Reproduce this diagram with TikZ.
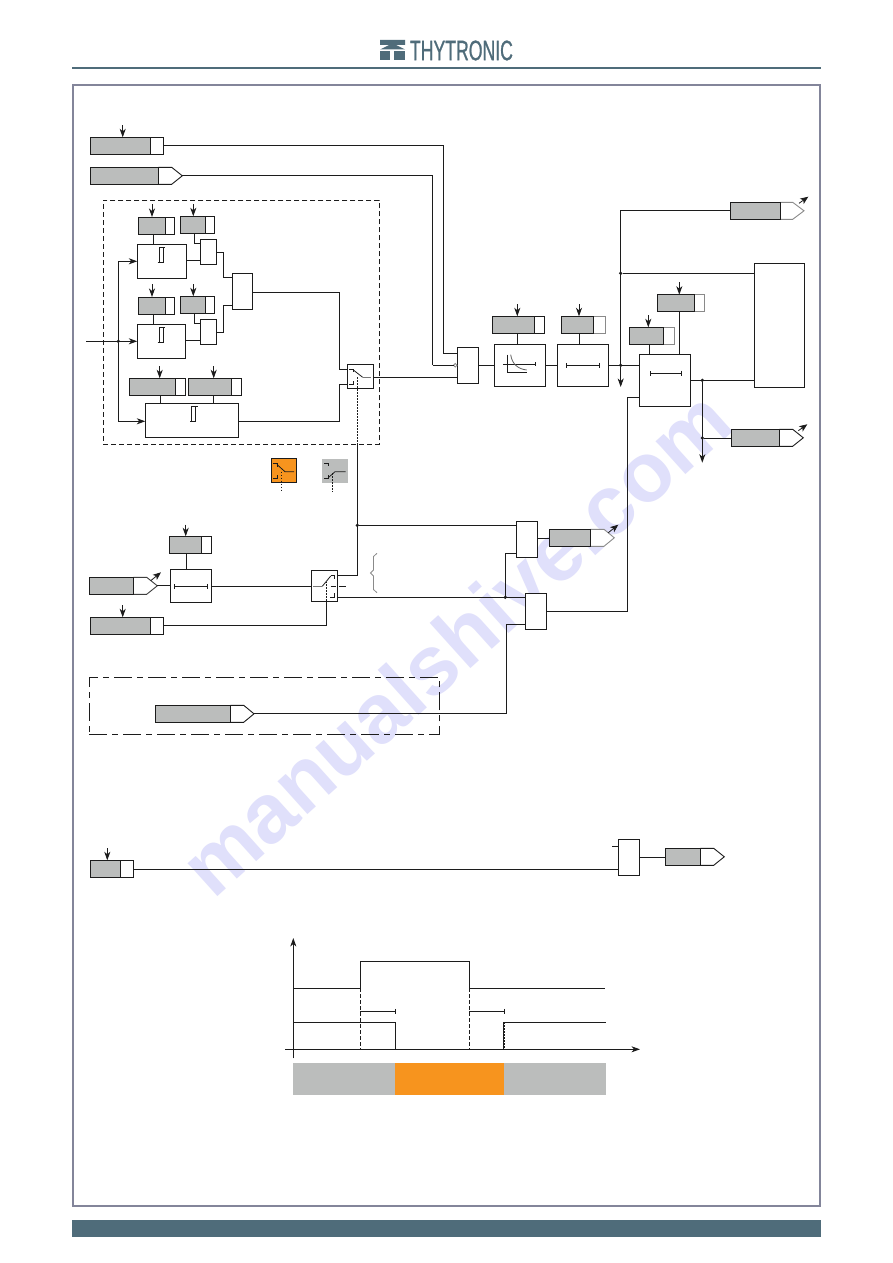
\documentclass[tikz,border=0pt]{standalone}
\usepackage{fontspec}
\usepackage{graphicx}
\setmainfont{Liberation Sans}
\usetikzlibrary{arrows.meta,calc,decorations.pathreplacing}
\definecolor{tagGray}{HTML}{BBBDBC}
\definecolor{ink}{HTML}{1C1C1C}
\definecolor{slate}{HTML}{4F6C7A}
\definecolor{amber}{HTML}{F7941E}
\definecolor{frameC}{HTML}{83859A}
\definecolor{wmark}{HTML}{E0E0FB}
\definecolor{softline}{HTML}{8A8A8A}
\tikzset{
  x=1pt,y=-1pt,
  every node/.style={inner sep=0pt,outer sep=0pt},
  wire/.style={draw=ink,line width=0.9pt},
  arr/.style={wire,-{Stealth[length=8.5pt,width=6pt,inset=2.5pt]}},
  bx/.style={draw=ink,line width=0.9pt,fill=white},
  graybx/.style={draw=ink,line width=0.9pt,fill=tagGray},
  softside/.style={draw=softline},
  jdot/.style={circle,fill=ink,minimum size=3.6pt},
  swmark/.style={draw=ink,line width=0.8pt},
  swcontact/.style={draw=ink!60!white,line width=0.9pt},
  dotted control/.style={draw=ink,line width=0.8pt,dash pattern=on 1.6pt off 1.4pt},
  timebar/.style={wire,{Bar[width=5pt,line width=.9pt]}-{Bar[width=5pt,line width=.9pt]}},
}
% box from two corners
\newcommand{\blk}[6][bx]{%
  \node[#1,minimum width={(#5-#3)*1pt},minimum height={(#6-#4)*1pt}] (#2)
     at ({(#3+#5)/2},{(#4+#6)/2}) {};}
% setting tag: gray part + white part
\newcommand{\stag}[7][]{%
  \blk[bx,#1]{#2-w}{#4}{#6}{#5}{#7}\blk[graybx]{#2}{#3}{#6}{#4}{#7}}
% pointed tag: gray part + white arrow-shaped part
\newcommand{\ptag}[8][]{%
  \path[fill=white,draw=ink,line width=.9pt,#1] (#4,#7) -- (#5,#7) -- (#6,{(#7+#8)/2}) -- (#5,#8) -- (#4,#8);
  \blk[graybx]{#2}{#3}{#7}{#4}{#8}%
  \coordinate (#2-tip) at (#6,{(#7+#8)/2});}
% arrow dropping on a box from a free point above it
\newcommand{\drop}[3]{%
  \coordinate (#1-src) at (#2,#3);
  \draw[arr] (#1-src) -- (#1-src |- #1.north);}
% arrow leaving a pointed tag
\newcommand{\bolt}[5]{%
  \coordinate (#1-a) at (#2,#3); \coordinate (#1-b) at (#4,#5);
  \draw[wire,line width=.8pt,-{Stealth[length=8pt,width=6.5pt,inset=2pt]}] (#1-a) -- (#1-b);}
\newcommand{\hyst}[3]{%
  \draw[ink,line width=.8pt] (#1-1.5,#3) -- (#1+4,#3) -- (#1+4,#2) -- (#1+6,#2);
  \draw[ink,line width=.8pt] (#1,#3) -- (#1,#2) -- (#1+4,#2);}

\begin{document}
\begin{tikzpicture}
\useasboundingbox (0,0) rectangle (893,1263);
\fill[white] (0,0) rectangle (893,1263);

% watermark
\node[rotate=42,text=wmark,font=\bfseries\fontsize{84}{84}\selectfont] (wm) at (455,642) {manualshive.com};

% page furniture
\node[minimum width=749pt,minimum height=2pt,fill=slate] (headrule) at (446.5,68) {};
\node[minimum width=749pt,minimum height=17pt,fill=slate] (footbar) at (446.5,1228.3) {};
\node[draw=frameC,line width=2pt,minimum width=747pt,minimum height=1121pt] (pageframe) at (446.5,645.5) {};
% logo
\fill[slate] (380,40) -- (405,40) -- (405,45) -- (396,45) -- (405,49.5) -- (380,49.5) -- (389,45) -- (380,45) -- cycle;
\fill[slate] (380,51) rectangle (390,60.5);
\fill[slate] (394,51) rectangle (405,60.5);
\node[anchor=west,text=slate,font=\fontsize{28}{28}\selectfont\addfontfeature{FakeBold=1.2}] (logo) at (410,50.5) {\scalebox{0.63}[1]{THYTRONIC}};

% upper input tags
\stag{A1}{90.3}{150.3}{163.3}{137.3}{154.3}
\drop{A1}{122.7}{125}
\ptag{A2}{90}{158.3}{171.7}{182.3}{167.3}{184.3}

% dashed function block
\node[draw=ink,line width=.9pt,dash pattern=on 5pt off 3pt,minimum width=276pt,minimum height=244pt] (fnframe) at (241.3,322.3) {};

\stag{SA}{138}{165.7}{174.3}{217}{234.3}
\drop{SA}{152}{204}
\stag{SB}{180.3}{205.7}{214.3}{216.3}{233.3}
\drop{SB}{193.3}{204}
\blk{R1}{137.3}{244.3}{186.3}{278.3}
\hyst{159}{247.3}{262.7}
\blk{AN1}{200.3}{239.3}{216.3}{264.3}

\stag{SC}{138}{165.7}{174.3}{297}{314.3}
\drop{SC}{152}{284}
\stag{SD}{180.3}{205.7}{214.3}{296.3}{313.7}
\drop{SD}{193.3}{284}
\blk{R2}{137.3}{324.3}{185.7}{358.3}
\hyst{159}{327.3}{342.7}
\blk{AN2}{200.3}{319.3}{216.3}{344.3}

\blk{OR1}{232.3}{273.3}{252.3}{309.3}

\stag{SE}{129.7}{175.3}{185.7}{378.3}{395.3}
\drop{SE}{159.7}{366}
\stag{SF}{188.3}{231.3}{241.3}{378.3}{395.3}
\drop{SF}{213.7}{366}
\blk{R3}{145.3}{403.3}{238.3}{437.3}
\hyst{191.5}{406}{421.7}

\blk{SW1}{347.3}{364.3}{373.3}{388.3}
\draw[swmark] (349,369.3) -- (353.3,369.3) -- (353.3,372);
\draw[swmark] (349,384.3) -- (353.3,384.3) -- (353.3,381);
\draw[swmark] (353.3,370) -- (362.7,377.3);
\draw[swcontact] (362.7,377.3) -- (371,377.3);

% wiring of the function block
\draw[wire] (SA.south -| 153.3,0) -- (R1.north -| 153.3,0);
\draw[wire] (SC.south -| 153.3,0) -- (R2.north -| 153.3,0);
\draw[wire] (SE.south -| 160.3,0) -- (R3.north -| 160.3,0);
\draw[wire] (SF.south -| 213.3,0) -- (R3.north -| 213.3,0);
\draw[wire] (SB.south -| 194.3,0) |- (AN1.west |- 0,243.7);
\draw[wire] (SD.south -| 194.3,0) |- (AN2.west |- 0,323.3);
\draw[wire] (R1.east |- 0,260.3) -- (AN1.west |- 0,260.3);
\draw[wire] (R2.east |- 0,340.3) -- (AN2.west |- 0,340.3);
\draw[wire] (AN1.east |- 0,252.3) -| (223.7,277.3) -- (OR1.west |- 0,277.3);
\draw[wire] (AN2.east |- 0,332.3) -| (223.7,305.3) -- (OR1.west |- 0,305.3);
\draw[wire] (OR1.east |- 0,292.3) -| (339.3,369.3) -- (SW1.west |- 0,369.3);
\draw[wire] (R3.east |- 0,421.3) -| (339.3,384.3) -- (SW1.west |- 0,384.3);

% measuring input
\coordinate (inp) at (86,341.3);
\node[jdot] (jin) at (118.3,341.3) {};
\draw[arr] (inp) -- (R2.west |- 0,341.3);
\draw[arr] (jin) |- (R1.west |- 0,261.3);
\draw[arr] (jin) |- (R3.west |- 0,421.3);

% legend switches
\blk[draw=ink,line width=.9pt,fill=amber]{LG1}{271.3}{458.3}{296.7}{482.7}
\draw[swmark] (273,463.7) -- (277,463.7) -- (277,466.5);
\draw[swmark] (273,478.3) -- (277,478.3) -- (277,475);
\draw[swmark] (277,464.5) -- (285,471.7) -- (294,471.7);
\coordinate (LG1-c) at (281.3,471.7);
\draw[dotted control] (LG1-c) -- (LG1-c |- 0,491.7);
\blk[fill=tagGray]{LG2}{322}{459}{348}{483}
\draw[swmark] (324,463.7) -- (328.7,463.7) -- (328.7,466);
\draw[swmark] (324,478.3) -- (328.7,478.3) -- (328.7,475);
\draw[swmark] (328.7,477.3) -- (335,471.7) -- (345.7,471.7);
\coordinate (LG2-c) at (332.3,473);
\draw[dotted control] (LG2-c) -- (LG2-c |- 0,491.7);

% second group
\stag{SG}{169.3}{201.3}{211.7}{536.3}{553.3}
\drop{SG}{185.7}{524.7}
\blk{T1}{170.3}{569.3}{211.3}{602.3}
\draw[timebar] (174.3,586.3) -- (207.7,586.3);
\ptag[draw=ink!85!white]{TF}{89.3}{133.3}{146.7}{157.3}{577.3}{594.3}
\bolt{TFb}{150.7}{580.7}{161}{572.3}
\stag{SH}{90.3}{150.3}{163.3}{617.3}{634.3}
\drop{SH}{122.7}{605.3}

\blk{SW2}{311.3}{570.3}{337.7}{601.3}
\draw[swcontact] (313,586.3) -- (322.3,586.3);
\draw[swmark] (322.3,586.3) -- (330.7,576);
\draw[swmark] (330.7,575.3) -- (334.7,575.3) -- (334.7,579);
\draw[swmark] (330,597) -- (334.7,597) -- (334.7,593.3);
\draw[swmark] (330.7,586.3) -- (336,586.3);
\draw[swmark] (339,586.3) -- (345.7,586.3);
\draw[dotted control] (326.7,601) -- (326.7,581.7);

\draw[wire] (SG.south -| 186.3,0) -- (T1.north -| 186.3,0);
\draw[wire] (TF-tip) -- (T1.west |- TF-tip);
\draw[wire] (T1.east |- 0,586.3) -- (SW2.west |- 0,586.3);
\draw[wire] (SH-w.east |- 0,625.3) -| (SW2.south -| 326.7,0);

% brace
\draw[softline,line width=.8pt] (377,553.3) -- (373.5,556.5) -- (373.5,570) -- (370.5,573) -- (373.5,576) -- (373.5,589.5) -- (377,592.7);

% AND/OR gates of lower group
\blk{AN3}{516.3}{521.3}{537.3}{557.3}
\ptag[softside]{TH}{549.3}{590.3}{604}{614.3}{529.3}{546.3}
\bolt{THb}{608.3}{532.7}{618.3}{524.7}
\blk{AN4}{525.3}{593.3}{546.3}{629.3}

% control of switch 1
\node[jdot] (j2) at (357.3,525.3) {};
\draw[dotted control] (357.3,377) -- (357.3,444.3);
\draw[wire] (SW2.east |- 0,575.3) -| (357.3,444.3);
\draw[wire] (j2) -- (AN3.west |- j2);
\node[jdot] (j3) at (505.3,597.3) {};
\draw[wire] (SW2.east |- 0,597.3) -- (AN4.west |- 0,597.3);
\draw[wire] (j3) |- (AN3.west |- 0,553.3);
\draw[wire] (AN3.east |- 0,538.3) -- (TH.west |- 0,538.3);

% dash-dot frame
\node[draw=ink,line width=.9pt,dash pattern=on 18pt off 5pt on 6pt off 5pt,minimum width=350pt,minimum height=56.6pt] (ddframe) at (264.3,706) {};
\ptag{TI}{155.3}{230.3}{243.7}{254}{705.3}{722.3}
\draw[wire] (TI-tip) -| (506.3,624.3) -- (AN4.west |- 0,624.3);

% main chain
\draw[wire] (A1-w.east |- 0,145.3) -| (443.3,353.3);
\draw[wire] (A2-tip) -| (432.7,365.3);
\blk{AN5}{457.3}{347.3}{478.7}{383.3}
\draw[wire] (443.3,353.3) -- (AN5.west |- 0,353.3);
\node[circle,draw=softline,line width=.8pt,fill=white,minimum size=3.6pt] (neg) at (455.3,365.3) {};
\draw[wire] (432.7,365.3) -- (neg.west);
\draw[wire] (SW1.east |- 0,377.3) -- (AN5.west |- 0,377.3);

\stag{SJ}{492.3}{534.3}{544.3}{316.3}{333.3}
\drop{SJ}{517.3}{304}
\blk{B1}{494.3}{344}{545.3}{386.3}
\draw[wire] (517.3,333.3) -- (B1.north -| 517.3,0);
\draw[ink,line width=.8pt] (503,364) -- (535.3,364);
\draw[ink,line width=.8pt] (535.3,362) -- (535.3,366);
\draw[ink,line width=.8pt] (507.3,354.7) -- (507.3,372.7) -- (526.7,372.7);
\draw[softline!70!black,line width=.8pt] (510.7,354.7) .. controls (512,364) and (518,369) .. (526.7,370);

\stag[softside]{SK}{561}{593.3}{605.3}{316.3}{333.3}
\drop{SK}{579}{304}
\blk{B2}{557.3}{344}{608.3}{386.3}
\draw[wire] (579.3,333.3) -- (B2.north -| 579.3,0);
\draw[timebar] (566.3,365.3) -- (599.7,365.3);

\stag[softside]{SM}{657.3}{694.3}{704.7}{294.7}{311.7}
\drop{SM}{679.3}{282.3}
\stag[softside]{SN}{629.3}{663.7}{674}{327.3}{344.3}
\drop{SN}{648.3}{315.3}
\blk{B3}{639.3}{354.3}{690.3}{406.3}
\draw[wire] (679.3,311.7) -- (B3.north -| 679.3,0);
\draw[wire] (649.3,344.3) -- (B3.north -| 649.3,0);
\draw[timebar] (649.7,373) -- (681.7,373);

\draw[wire] (AN5.east |- 0,365.3) -- (B1.west |- 0,365.3);
\draw[wire] (B1.east |- 0,365.3) -- (B2.west |- 0,365.3);
\draw[wire] (B2.east |- 0,365.3) -- (B3.west |- 0,365.3);

\blk{BIG}{754.3}{263.3}{804.3}{387.3}
\ptag[softside]{TL}{730.3}{780.3}{792.7}{804}{202.3}{219.3}
\bolt{TLb}{799}{203.3}{808.3}{196.7}
\ptag{TQ}{731.3}{779.3}{792.7}{803.3}{429.3}{446.3}
\bolt{TQb}{798.3}{430.7}{807.3}{424.3}

\node[jdot] (j4) at (620.7,365.3) {};
\node[jdot] (j5) at (620.7,273.3) {};
\coordinate (d4) at (620.7,387);
\draw[arr] (j4) -- (d4);
\draw[wire] (j4) |- (TL.west |- 0,210.3);
\draw[wire] (j5) -- (BIG.west |- j5);

\node[jdot] (j6) at (702.3,380.3) {};
\node[jdot] (j7) at (702.3,438) {};
\coordinate (d6) at (702.3,462.7);
\draw[wire] (B3.east |- j6) -- (BIG.west |- j6);
\draw[arr] (j6) -- (d6);
\draw[wire] (j7) -- (TQ.west |- j7);

\draw[wire] (AN4.east |- 0,611) -| (627.3,397.3) -- (B3.west |- 0,397.3);

% lower line
\stag{SR}{90.3}{120.3}{133.3}{860.3}{877.3}
\drop{SR}{107.3}{848.3}
\blk{AN6}{618.3}{839.3}{639.3}{875.3}
\coordinate (stub) at (612.3,846.3);
\draw[wire] (stub) -- (AN6.west |- stub);
\draw[wire] (SR-w.east |- 0,869) -- (AN6.west |- 0,869);
\ptag{TS}{665.3}{700.3}{713.7}{724.3}{848.3}{865.3}
\draw[wire] (AN6.east |- 0,857.3) -- (TS.west |- 0,857.3);

% timing diagram
\coordinate (yb) at (293.3,1058.3); \coordinate (yt) at (293.3,938);
\coordinate (xl) at (285,1049.3); \coordinate (xr) at (640,1049.3);
\draw[arr] (yb) -- (yt);
\draw[arr] (xl) -- (xr);
\draw[wire] (293.3,988.3) -- (360.3,988.3) -- (360.3,961.3) -- (469.3,961.3) -- (469.3,988.3) -- (605,988.3);
\draw[wire] (293.3,1022.3) -- (395.3,1022.3) -- (395.3,1049.3);
\draw[wire] (503.3,1049.3) -- (503.3,1022.3) -- (605.7,1022.3);
\draw[wire,dash pattern=on 3.5pt off 2.5pt] (360.3,988.3) -- (360.3,1049.3);
\draw[wire,dash pattern=on 3.5pt off 2.5pt] (469.3,988.3) -- (469.3,1049.3);
\draw[wire,dash pattern=on 2pt off 1pt] (504.3,1022.3) -- (504.3,1049.3);
\draw[wire] (360.3,1011.3) -- (395.3,1011.3);
\draw[wire] (395.3,1008.8) -- (395.3,1013.8);
\draw[wire] (469.3,1011.3) -- (504.3,1011.3);
\draw[wire] (504.3,1008.8) -- (504.3,1013.8);
\node[fill=tagGray,minimum width=102pt,minimum height=31.7pt] (bar1) at (344,1078.8) {};
\node[fill=amber,minimum width=109pt,minimum height=31.7pt] (bar2) at (449.5,1078.8) {};
\node[fill=tagGray,minimum width=102pt,minimum height=31.7pt] (bar3) at (555,1078.8) {};
\end{tikzpicture}
\end{document}
